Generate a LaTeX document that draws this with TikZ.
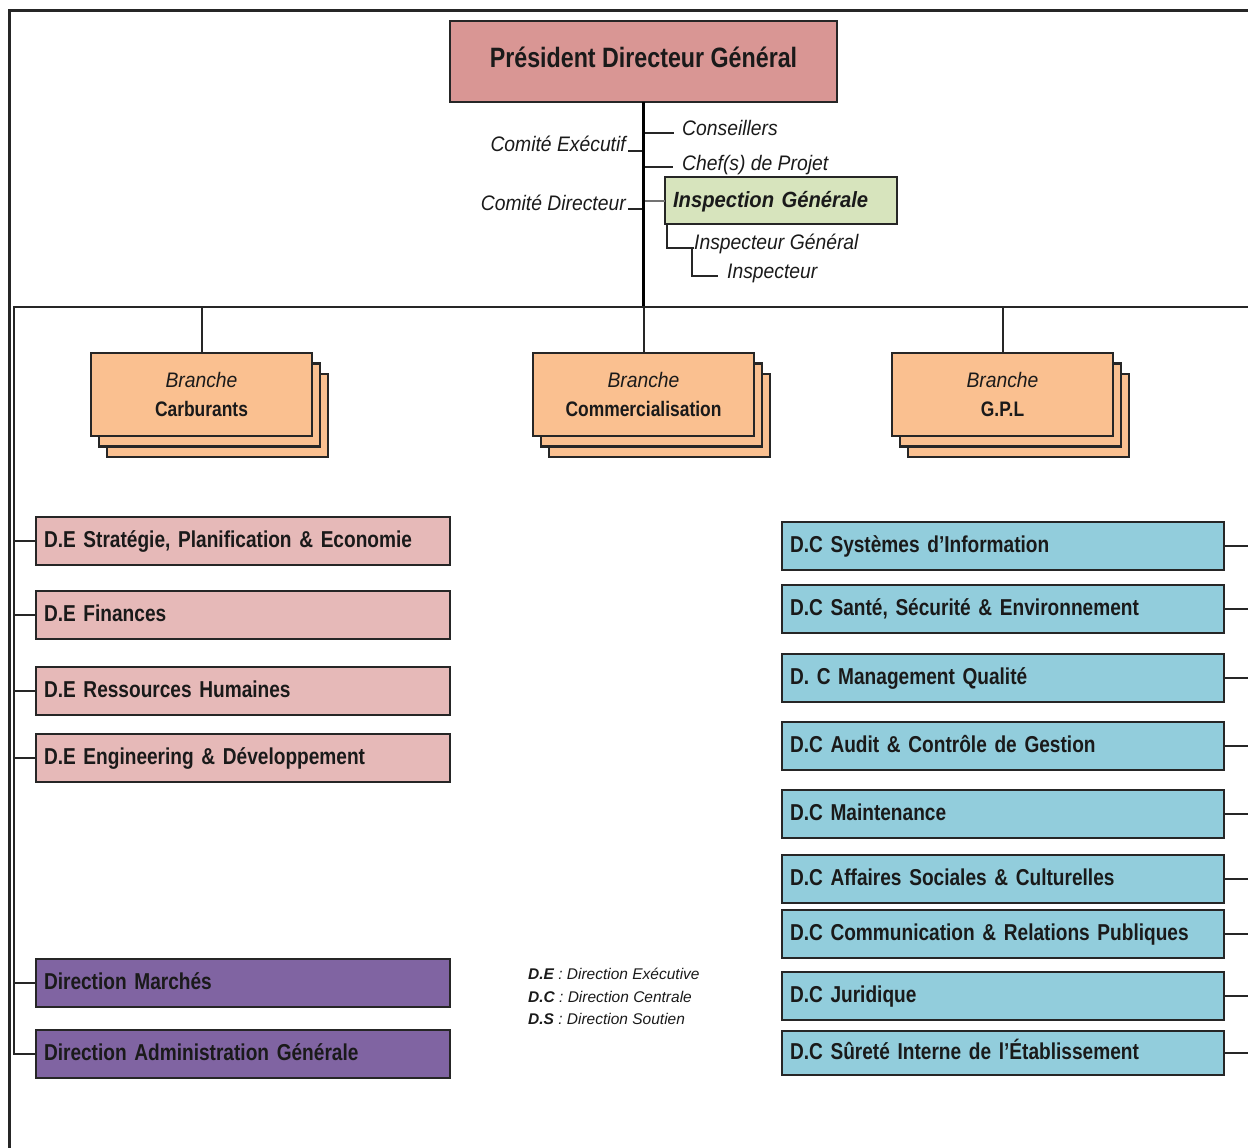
\documentclass[tikz,border=0pt]{standalone}
\usepackage{fontspec}
\setmainfont{Liberation Sans}
\newfontfamily\boxfont[FakeStretch=0.83]{Liberation Sans}
\newfontfamily\labfont[FakeStretch=0.92]{Liberation Sans}

\definecolor{pdgfill}{HTML}{D99694}
\definecolor{defill}{HTML}{E6B9B8}
\definecolor{igfill}{HTML}{D7E4BD}
\definecolor{brfill}{HTML}{FAC090}
\definecolor{dcfill}{HTML}{92CDDC}
\definecolor{dsfill}{HTML}{8064A2}
\definecolor{edge}{HTML}{262626}
\definecolor{ink}{HTML}{1A1A1A}

\tikzset{
  frame/.style={line width=3pt, draw=edge},
  trunk/.style={line width=3.4pt, draw=black},
  bar/.style={line width=2.6pt, draw=edge},
  conn/.style={line width=2pt, draw=edge},
  boxbase/.style={draw=edge, line width=2.4pt, rectangle, outer sep=0pt},
  dbox/.style={boxbase, anchor=north west, minimum height=48pt,
    text height=17pt, text depth=5pt, inner xsep=8pt, inner ysep=0pt,
    align=left, text=ink, font=\boxfont\bfseries\fontsize{23}{26}\selectfont},
  debox/.style={dbox, fill=defill, text width=398pt},
  dsbox/.style={dbox, fill=dsfill, text width=398pt},
  dcbox/.style={dbox, fill=dcfill, text width=426pt},
  brback/.style={boxbase, fill=brfill, anchor=north west,
    minimum width=221pt, minimum height=83pt, inner sep=0pt},
  brfront/.style={brback, align=center, text=ink,
    font=\boxfont\bfseries\fontsize{21}{29}\selectfont},
  lab/.style={inner sep=0pt, text=ink, font=\labfont\itshape\fontsize{21}{24}\selectfont},
  legend/.style={inner sep=0pt, anchor=base west, text=ink,
    font=\itshape\fontsize{15.5}{18}\selectfont},
}

\begin{document}
\begin{tikzpicture}[x=1pt,y=-1pt]
\useasboundingbox (0,0) rectangle (1248,1148);

% outer frame (open on the right and at the bottom)
\coordinate (fBL) at (9,1148);
\coordinate (fTL) at (9,11);
\coordinate (fTR) at (1248,11);
\draw[frame] (fBL) -- (fTL) -- (fTR);

% top of the organisation
\node[boxbase, fill=pdgfill, anchor=north west, minimum width=387pt,
      inner xsep=0pt, inner ysep=0pt, text height=46pt, text depth=35pt,
      text=ink, font=\boxfont\bfseries\fontsize{28}{32}\selectfont]
  (pdg) at (450,21) {Président Directeur Général};

\coordinate (hub) at (pdg.south |- 0,307);
\coordinate (barL) at (14,307);
\coordinate (barR) at (1248,307);

% staff attached to the trunk
\node[lab, anchor=base east] (ce) at (626,151) {Comité Exécutif};
\node[lab, anchor=base east] (cd) at (626,210) {Comité Directeur};
\node[lab, anchor=base west] (cons) at (682,135) {Conseillers};
\node[lab, anchor=base west] (chef) at (682,170) {Chef(s) de Projet};

\node[boxbase, fill=igfill, anchor=north west, minimum height=47pt,
      text width=216pt, inner xsep=8pt, inner ysep=0pt,
      text height=16pt, text depth=2pt, align=left, text=ink,
      font=\labfont\bfseries\itshape\fontsize{22}{24}\selectfont]
  (insp) at (665,177) {Inspection Générale};

\node[lab, anchor=base west] (igen) at (694,249) {Inspecteur Général};
\node[lab, anchor=base west] (insr) at (727,278) {Inspecteur};

\draw[conn] ([xshift=2pt]ce.base east) -- (ce.base east -| hub);
\draw[conn] ([xshift=2pt,yshift=1pt]cd.base east) -- ([yshift=1pt]cd.base east -| hub);
\draw[conn, shorten >=8pt] ([yshift=2pt]cons.base west -| hub) -- ([yshift=2pt]cons.base west);
\draw[conn, shorten >=9pt] ([yshift=3pt]chef.base west -| hub) -- ([yshift=3pt]chef.base west);
\draw[conn, draw=black!55] (insp.west -| hub) -- (insp.west);
\draw[conn] ([xshift=1.5pt]insp.south west) |- ([yshift=1pt]igen.base west);
\draw[conn] ([xshift=-2pt,yshift=1pt]igen.base west) |- ([xshift=-9pt,yshift=2pt]insr.base west);

% trunk
\draw[trunk] (pdg.south) -- (hub);

% branches
\node[brback] (brA3) at (107,374) {};
\node[brback] (brA2) at (99,363.5) {};
\node[brfront] (brA) at (91,353) {{\labfont\mdseries\itshape Branche}\\Carburants};

\node[brback] (brB3) at (549,374) {};
\node[brback] (brB2) at (541,363.5) {};
\node[brfront] (brB) at (533,353) {{\labfont\mdseries\itshape Branche}\\Commercialisation};

\node[brback] (brC3) at (908,374) {};
\node[brback] (brC2) at (900,363.5) {};
\node[brfront] (brC) at (892,353) {{\labfont\mdseries\itshape Branche}\\G.P.L};

% executive directorates
\node[debox] (de1) at (36,517) {D.E Stratégie, Planification \& Economie};
\node[debox] (de2) at (36,591) {D.E Finances};
\node[debox] (de3) at (36,667) {D.E Ressources Humaines};
\node[debox] (de4) at (36,734) {D.E Engineering \& Développement};

% support directorates
\node[dsbox] (ds1) at (36,959) {Direction Marchés};
\node[dsbox] (ds2) at (36,1030) {Direction Administration Générale};

% central directorates
\node[dcbox] (dc1) at (782,522) {D.C Systèmes d’Information};
\node[dcbox] (dc2) at (782,585) {D.C Santé, Sécurité \& Environnement};
\node[dcbox] (dc3) at (782,654) {D. C Management Qualité};
\node[dcbox] (dc4) at (782,722) {D.C Audit \& Contrôle de Gestion};
\node[dcbox] (dc5) at (782,790) {D.C Maintenance};
\node[dcbox] (dc6) at (782,855) {D.C Affaires Sociales \& Culturelles};
\node[dcbox] (dc7) at (782,910) {D.C Communication \& Relations Publiques};
\node[dcbox] (dc8) at (782,972) {D.C Juridique};
\node[dcbox, minimum height=44pt] (dc9) at (782,1031) {D.C Sûreté Interne de l’Établissement};

% bar, left spine and connectors
\draw[bar] (barR) -- (barL) |- (ds2.west);
\foreach \b in {brA,brB,brC} \draw[conn] (\b.north |- barL) -- (\b.north);
\foreach \d in {de1,de2,de3,de4,ds1} \draw[conn] (barL |- \d.west) -- (\d.west);
\foreach \d in {dc1,dc2,dc3,dc4,dc5,dc6,dc7,dc8,dc9} \draw[conn] (\d.east) -- (\d.east -| barR);

% legend
\node[legend] (lg1) at (528,979) {\textbf{D.E} : Direction Exécutive};
\node[legend] (lg2) at (528,1002) {\textbf{D.C} : Direction Centrale};
\node[legend] (lg3) at (528,1024) {\textbf{D.S} : Direction Soutien};

\end{tikzpicture}
\end{document}
